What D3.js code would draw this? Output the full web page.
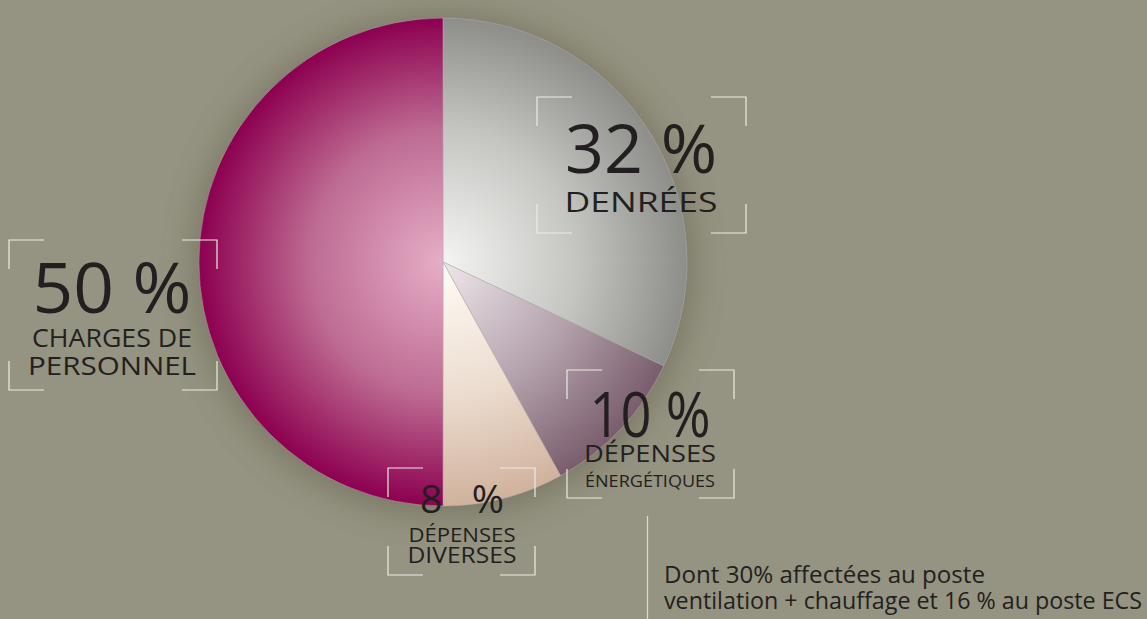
<!DOCTYPE html>
<html>
<head>
<meta charset="utf-8">
<script src="https://cdn.jsdelivr.net/npm/d3@7"></script>
<style>
  html, body { margin: 0; padding: 0; background: #959381; }
  svg { display: block; }
  text { font-family: "Open Sans", "Noto Sans", sans-serif; fill: #231f20; }
</style>
</head>
<body>
<div id="chart"></div>
<script>
// cost breakdown, clockwise from 12 o'clock
var categories = ["Denrées", "Dépenses énergétiques", "Dépenses diverses", "Charges de personnel"];
var values = [32, 10, 8, 50];
var valueLabels = ["32 %", "10 %", "8 %", "50 %"];
var subLabels = [["DENRÉES"], ["DÉPENSES", "ÉNERGÉTIQUES"], ["DÉPENSES", "DIVERSES"], ["CHARGES DE", "PERSONNEL"]];
var noteLines = ["Dont 30% affectées au poste", "ventilation + chauffage et 16 % au poste ECS"];

// gradient stops per slice: centre -> rim
var sliceColors = [
    ["#f4f4f2", "#c4c5c1", "#8d8e89"],
    ["#efe7ec", "#b4a2ac", "#7a5d6d"],
    ["#fffcf6", "#ecdccf", "#d0b29d"],
    ["#e6aec7", "#bd6a91", "#8c0050"]
];

var width = 1147, height = 619;
var cx = 443, cy = 262, radius = 244;

// label boxes (corner brackets) and text placement
var boxes = [
    {x0: 537, x1: 746, y0: 97, y1: 233, tx: 641, big: 173, bigSize: 67, bigW: 152, bigAdj: "spacingAndGlyphs", lines: [212], sizes: [28], widths: [153]},
    {x0: 567, x1: 734, y0: 370, y1: 498, tx: 650, big: 437, bigSize: 63, bigW: 121, bigAdj: "spacingAndGlyphs", lines: [462, 487], sizes: [24, 17], widths: [132, 130]},
    {x0: 388, x1: 535, y0: 468, y1: 575, tx: 462, big: 513, bigSize: 39, bigW: 84, bigAdj: "spacing", lines: [542, 563], sizes: [20, 22], widths: [107, 109]},
    {x0: 9, x1: 217, y0: 240, y1: 390, tx: 112, big: 313, bigSize: 70, bigW: 159, bigAdj: "spacingAndGlyphs", lines: [347, 375], sizes: [26, 26], widths: [160, 168]}
];

var svg = d3.select("#chart").append("svg")
    .attr("width", width)
    .attr("height", height);

var defs = svg.append("defs");

defs.append("filter")
    .attr("id", "halo")
    .attr("x", "-30%").attr("y", "-30%")
    .attr("width", "160%").attr("height", "160%")
    .append("feGaussianBlur")
    .attr("stdDeviation", 16);

// gradients live in the pie group's coords (centre at 0,0)
sliceColors.forEach(function(c, i) {
    var grad = defs.append("radialGradient")
        .attr("id", "grad" + i)
        .attr("gradientUnits", "userSpaceOnUse")
        .attr("cx", 0).attr("cy", 0).attr("r", radius);
    grad.append("stop").attr("offset", "0%").attr("stop-color", c[0]);
    grad.append("stop").attr("offset", "55%").attr("stop-color", c[1]);
    grad.append("stop").attr("offset", "100%").attr("stop-color", c[2]);
});

var g = svg.append("g")
    .attr("transform", "translate(" + cx + "," + cy + ")");

// soft dark glow behind the pie
g.append("circle")
    .attr("cy", 3)
    .attr("r", radius + 6)
    .attr("fill", "#5f5c4a")
    .attr("opacity", 0.5)
    .attr("filter", "url(#halo)");

var pie = d3.pie().sort(null).value(function(d) { return d; });
var arc = d3.arc().innerRadius(0).outerRadius(radius);

g.selectAll("path.slice")
    .data(pie(values))
    .enter()
    .append("path")
    .attr("class", "slice")
    .attr("d", arc)
    .attr("fill", function(d, i) { return "url(#grad" + i + ")"; })
    .attr("stroke", "#b3aeaa")
    .attr("stroke-width", 0.5);

// corner brackets
var armX = 35, armY = 29;
var bracketColor = "#ecebe4";

boxes.forEach(function(b, i) {
    var bg = svg.append("g")
        .attr("fill", "none")
        .attr("stroke", bracketColor)
        .attr("stroke-width", 1.2);
    var corners = [
        [b.x0, b.y0, 1, 1], [b.x1, b.y0, -1, 1],
        [b.x0, b.y1, 1, -1], [b.x1, b.y1, -1, -1]
    ];
    corners.forEach(function(c) {
        bg.append("path")
            .attr("d", "M" + (c[0] + c[2] * armX) + "," + c[1] +
                " L" + c[0] + "," + c[1] +
                " L" + c[0] + "," + (c[1] + c[3] * armY));
    });

    svg.append("text")
        .attr("x", b.tx)
        .attr("y", b.big)
        .attr("text-anchor", "middle")
        .style("font-size", b.bigSize + "px")
        .attr("textLength", b.bigW)
        .attr("lengthAdjust", b.bigAdj)
        .text(valueLabels[i]);

    subLabels[i].forEach(function(line, j) {
        svg.append("text")
            .attr("x", b.tx)
            .attr("y", b.lines[j])
            .attr("text-anchor", "middle")
            .style("font-size", b.sizes[j] + "px")
            .attr("textLength", b.widths[j])
            .attr("lengthAdjust", "spacingAndGlyphs")
            .text(line);
    });
});

// note about energy costs
svg.append("line")
    .attr("x1", 647.5).attr("x2", 647.5)
    .attr("y1", 516).attr("y2", height)
    .attr("stroke", "#dcdad0")
    .attr("stroke-width", 1.2);

var noteWidths = [321, 478];
noteLines.forEach(function(line, j) {
    svg.append("text")
        .attr("x", 664)
        .attr("y", 583 + j * 26)
        .style("font-size", "23px")
        .attr("textLength", noteWidths[j])
        .attr("lengthAdjust", "spacingAndGlyphs")
        .text(line);
});
</script>
</body>
</html>
